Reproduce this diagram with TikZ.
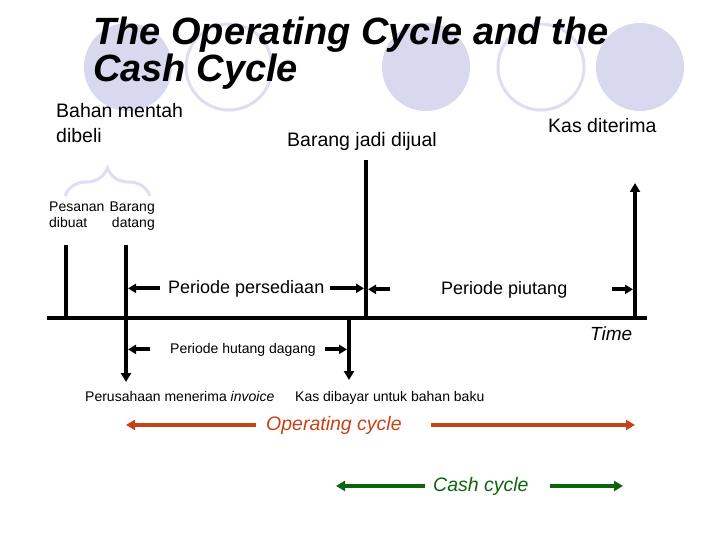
\documentclass[tikz,border=0pt]{standalone}
\usepackage{fontspec}
\setmainfont{Liberation Sans}
\usetikzlibrary{arrows.meta,positioning,calc,decorations.pathreplacing}
\definecolor{lavender}{RGB}{216,216,238}
\definecolor{ringcol}{RGB}{222,222,240}
\definecolor{opred}{RGB}{196,66,24}
\definecolor{cashgreen}{RGB}{12,100,12}

\begin{document}
\begin{tikzpicture}[
  x=1pt, y=-1pt,
  title/.style={inner sep=0pt, anchor=base west, align=left, font=\fontsize{38}{37}\selectfont\bfseries\itshape},
  big/.style={inner sep=0pt, anchor=base west, font=\fontsize{19.5}{25}\selectfont},
  mid/.style={inner sep=0pt, anchor=base west, font=\fontsize{18}{22}\selectfont},
  small/.style={inner sep=0pt, anchor=base west, font=\fontsize{14}{16}\selectfont},
  tick/.style={line width=4pt},
  arrow/.style={-{Triangle[length=9pt,width=10pt]}, line width=4pt},
  dim/.style={-{Triangle[length=8pt,width=9pt]}, line width=4pt, shorten >=2pt},
  cyc/.style={-{Triangle[length=9pt,width=10pt]}, line width=4pt}
]
  \useasboundingbox (0,0) rectangle (720,540);

  % background circles
  \fill[lavender] (128,67) circle (44);
  \draw[ringcol, line width=3pt] (229,67) circle (43);
  \fill[lavender] (426,67) circle (44);
  \draw[ringcol, line width=3pt] (541,67) circle (43);
  \fill[lavender] (640,67) circle (44);

  \node[title] (ttl) at (93,82) {The Operating Cycle and the\\Cash Cycle};

  % labels
  \node[big, align=left] (bahan) at (56,143) {Bahan mentah\\dibeli};
  \node[big] (jual) at (287,147) {Barang jadi dijual};
  \node[big] (kas) at (548,133) {Kas diterima};
  \node[small, align=left] (pesan) at (49,227) {Pesanan\\dibuat};
  \node[small, align=right, anchor=base east] (datang) at (155,227) {Barang\\datang};
  \draw[ringcol, line width=3pt, decorate, decoration={brace, amplitude=28pt}]
    (65,196) -- (150,196);

  % time axis and ticks
  \coordinate (t0) at (47,318);
  \coordinate (t1) at (647,318);
  \coordinate (a) at (66,245);
  \coordinate (b) at (126,245);
  \coordinate (bdn) at (126,382);
  \coordinate (c) at (366,160);
  \coordinate (ddn) at (349,380);
  \coordinate (e) at (635,183);
  \draw[tick] (t0) -- (t1);
  \draw[tick] (a) -- (a |- t0);
  \draw[tick] (b) -- (b |- t0);
  \draw[arrow] (b |- t0) -- (bdn);
  \draw[tick] (c) -- (c |- t0);
  \draw[arrow] (ddn |- t0) -- (ddn);
  \draw[arrow] (e |- t0) -- (e);
  \node[font=\fontsize{19}{22}\selectfont\itshape, inner sep=0pt, anchor=base west] (time) at (590,340) {Time};

  % periods
  \node[mid] (persed) at (168,293) {Periode persediaan};
  \node[mid] (piut) at (441,294) {Periode piutang};
  \node[small] (hut) at (170,353) {Periode hutang dagang};
  \draw[dim] ($(b |- persed.west)+(34,0)$) -- (b |- persed.west);
  \draw[dim] ($(c |- persed.east)+(-36,0)$) -- (c |- persed.east);
  \draw[dim] ($(c |- piut.west)+(24,0)$) -- (c |- piut.west);
  \draw[dim] ($(e |- piut.east)+(-23,0)$) -- (e |- piut.east);
  \draw[dim] ($(b |- hut.west)+(24,0)$) -- (b |- hut.west);
  \draw[dim] ($(ddn |- hut.east)+(-24,0)$) -- (ddn |- hut.east);

  \node[small] (inv) at (85,401) {Perusahaan menerima \textit{invoice}};
  \node[small] (bayar) at (295,401) {Kas dibayar untuk bahan baku};

  % cycles
  \node[big, text=opred, font=\fontsize{19.5}{24}\selectfont\itshape] (op) at (266,430) {Operating cycle};
  \draw[cyc, opred] ($(op.west)+(-10,0)$) -- (b |- op.west);
  \draw[cyc, opred] ($(op.east)+(29,0)$) -- (e |- op.east);
  \coordinate (cl) at (336,0);
  \coordinate (cr) at (623,0);
  \node[big, text=cashgreen, font=\fontsize{19.5}{24}\selectfont\itshape] (cash) at (433,491) {Cash cycle};
  \draw[cyc, cashgreen] ($(cash.west)+(-8,0)$) -- (cl |- cash.west);
  \draw[cyc, cashgreen] ($(cash.east)+(21,0)$) -- (cr |- cash.east);
\end{tikzpicture}
\end{document}
